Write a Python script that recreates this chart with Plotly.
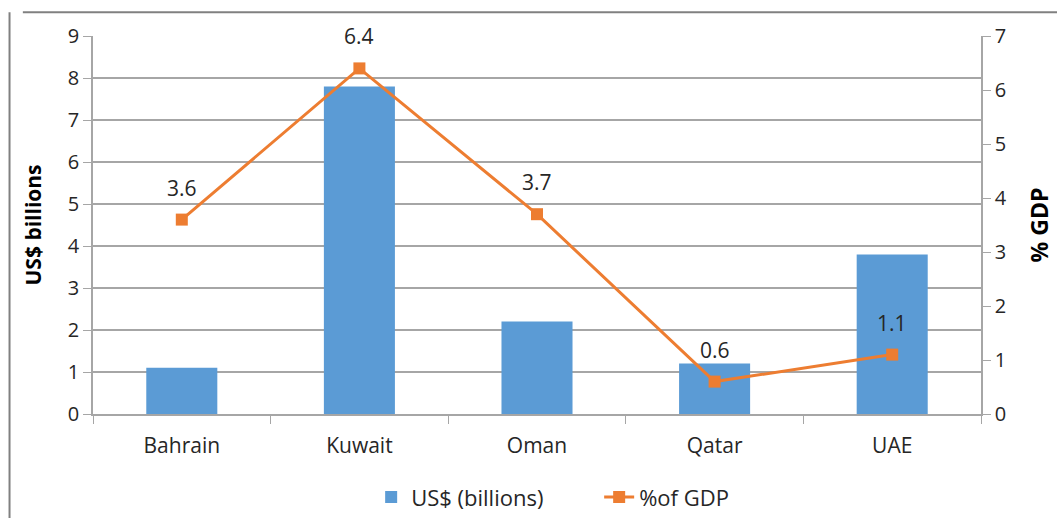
import plotly.graph_objects as go

countries = ["Bahrain", "Kuwait", "Oman", "Qatar", "UAE"]
usd_billions = [1.1, 7.8, 2.2, 1.2, 3.8]
pct_gdp = [3.6, 6.4, 3.7, 0.6, 1.1]
left_ticks = [0, 1, 2, 3, 4, 5, 6, 7, 8, 9]
right_ticks = [0, 1, 2, 3, 4, 5, 6, 7]

FONT = "'Open Sans', sans-serif"
GRID = "#A6A6A6"
TXT = "#262626"

fig = go.Figure()
fig.add_trace(go.Bar(
    x=countries, y=usd_billions, name="US$ (billions)",
    marker=dict(color="#5B9BD5", line=dict(width=0)),
    yaxis="y",
))
fig.add_trace(go.Scatter(
    x=countries, y=pct_gdp, name="%of GDP", mode="lines+markers",
    line=dict(color="#ED7D31", width=3),
    marker=dict(symbol="square", size=12, color="#ED7D31"),
    yaxis="y2",
))

for c, v in zip(countries, pct_gdp):
    fig.add_annotation(
        x=c, y=v, xref="x", yref="y2", text=f"{v:.1f}", showarrow=False,
        yshift=32, font=dict(family=FONT, size=21, color=TXT),
    )

# outer border of the original figure frame
fig.add_shape(type="line", xref="paper", yref="paper",
              x0=-0.079, x1=1.2, y0=1.063, y1=1.063,
              line=dict(color="#808080", width=2))
fig.add_shape(type="line", xref="paper", yref="paper",
              x0=-0.094, x1=-0.094, y0=1.063, y1=-0.3,
              line=dict(color="#808080", width=2))

fig.update_layout(
    width=1057, height=518,
    margin=dict(l=93, r=76, t=36, b=104, autoexpand=False),
    paper_bgcolor="white", plot_bgcolor="white",
    font=dict(family=FONT, size=20, color=TXT),
    bargap=0.6,
    showlegend=True,
    legend=dict(orientation="h", x=0.57, xanchor="center",
                yref="container", y=0.04, yanchor="middle",
                font=dict(family=FONT, size=22, color=TXT),
                entrywidth=183, entrywidthmode="pixels",
                traceorder="normal"),
    xaxis=dict(
        showline=True, linecolor=GRID, linewidth=1.5,
        ticks="outside", tickson="boundaries", ticklen=8, tickcolor=GRID,
        tickfont=dict(family=FONT, size=21, color=TXT),
        ticklabelstandoff=12,
        showgrid=False,
    ),
    yaxis=dict(
        range=[0, 9], tickvals=left_ticks, showgrid=True, gridcolor=GRID, gridwidth=1.5,
        showline=True, linecolor=GRID, linewidth=1.5,
        ticks="outside", ticklen=8, tickcolor=GRID,
        tickfont=dict(family=FONT, size=20, color=TXT),
        title=dict(text="<b>US$ billions</b>", font=dict(family=FONT, size=21, color="#000000"), standoff=20),
        zeroline=False,
    ),
    yaxis2=dict(
        range=[0, 7], tickvals=right_ticks, overlaying="y", side="right",
        showgrid=False, showline=True, linecolor=GRID, linewidth=1.5,
        ticks="outside", ticklen=8, tickcolor=GRID,
        tickfont=dict(family=FONT, size=20, color=TXT),
        title=dict(text="<b>% GDP</b>", font=dict(family=FONT, size=23, color="#000000"), standoff=26),
        zeroline=False,
    ),
)

fig.write_html("out.html")
